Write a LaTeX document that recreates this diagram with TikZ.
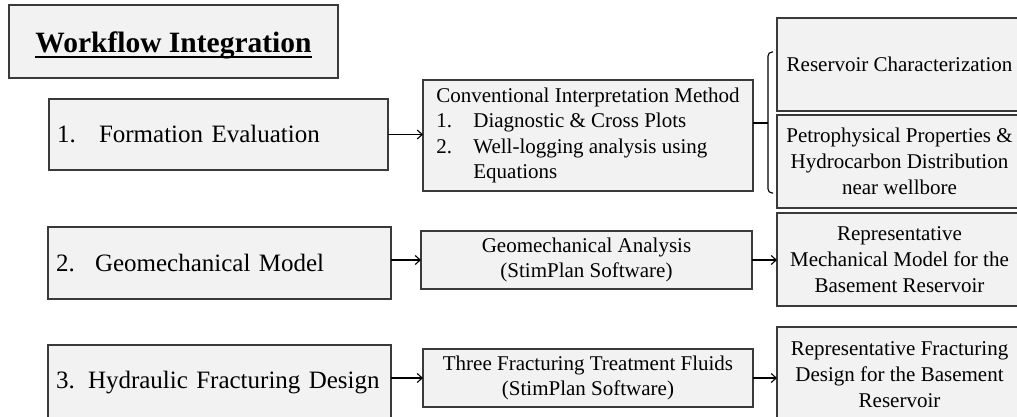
\documentclass[tikz,border=0pt]{standalone}
\usepackage{fontspec}
\setmainfont{Liberation Serif}
\usetikzlibrary{arrows.meta,calc}
\definecolor{boxfill}{HTML}{F2F2F2}
\definecolor{boxline}{HTML}{3A3A3A}
\begin{document}
\begin{tikzpicture}[x=1pt,y=-1pt,
  box/.style={draw=boxline, fill=boxfill, line width=1.4pt, inner sep=0pt, outer sep=0pt},
  leftbox/.style={box, font=\fontsize{25}{30}\selectfont, align=left, inner xsep=8pt, text width=#1},
  midbox/.style={box, font=\fontsize{21}{24.5}\selectfont, align=center},
  listbox/.style={box, font=\fontsize{21}{25.3}\selectfont, align=left},
  rightbox/.style={box, font=\fontsize{21}{26}\selectfont, align=center},
  arr/.style={-{Straight Barb[length=5pt,width=9pt]}, line width=1.1pt, black},
  brk/.style={line width=1.1pt, black, rounded corners=4pt}
]
\useasboundingbox (0,0) rectangle (1017,417);
\clip (0,0) rectangle (1017,417);

% title
\node[box, minimum width=329pt, minimum height=73pt] (tbox) at (173.5,41.5) {};
\node[inner sep=0pt, anchor=base, font=\fontsize{29.5}{34}\selectfont\bfseries] (ttext) at (173.5,53) {Workflow Integration};
\draw[line width=2.2pt, black] ([yshift=-4pt]ttext.base west) -- ([yshift=-4pt]ttext.base east);

% left column
\node[leftbox=323pt, minimum width=339pt, minimum height=71pt] (b1) at (218.5,134.5)
  {\makebox[42pt][l]{1.}Formation Evaluation};
\node[leftbox=327pt, minimum width=343pt, minimum height=72pt] (b2) at (219.5,263)
  {\makebox[39pt][l]{2.}Geomechanical Model};
\node[leftbox=327pt, minimum width=343pt, minimum height=75pt] (b3) at (219.5,382.5)
  {\makebox[32pt][l]{3.}Hydraulic Fracturing Design};

% middle column
\node[listbox, minimum width=330pt, minimum height=111pt] (conv) at (588,135.5)
  {Conventional Interpretation Method\\
   \makebox[37pt][l]{1.}Diagnostic \& Cross Plots\\
   \makebox[37pt][l]{2.}Well-logging analysis using\\
   \hspace*{37pt}Equations};
\node[midbox, minimum width=331pt, minimum height=58pt] (geo) at (586.5,260)
  {Geomechanical Analysis\\(StimPlan Software)};
\node[midbox, minimum width=330pt, minimum height=58pt] (tf) at (588,378)
  {Three Fracturing Treatment Fluids\\(StimPlan Software)};

% right column
\node[rightbox, minimum width=245pt, minimum height=93pt] (rc) at (899.5,64.5)
  {Reservoir Characterization};
\node[rightbox, minimum width=245pt, minimum height=93pt] (pp) at (899.5,161.5)
  {Petrophysical Properties \&\\Hydrocarbon Distribution\\near wellbore};
\node[rightbox, minimum width=245pt, minimum height=93pt] (rm) at (899.5,259.5)
  {Representative\\Mechanical Model for the\\Basement Reservoir};
\node[rightbox, minimum width=245pt, minimum height=96pt] (rf) at (899.5,375)
  {Representative Fracturing\\Design for the Basement\\Reservoir};

% bracket
\coordinate (btop) at (773,52);
\coordinate (bbot) at (773,193);
\coordinate (bmid) at (768,123);
\draw[brk] (btop) -- (768,52) -- (768,193) -- (bbot);
\draw[line width=1.1pt, black] (bmid -| conv.east) -- (bmid);

% arrows
\draw[arr] (b1.east) -- (b1.east -| conv.west);
\draw[arr] (b2.east |- geo.west) -- (geo.west);
\draw[arr] (b3.east |- tf.west) -- (tf.west);
\draw[arr] (geo.east) -- (geo.east -| rm.west);
\draw[arr] (tf.east) -- (tf.east -| rf.west);
\end{tikzpicture}
\end{document}
